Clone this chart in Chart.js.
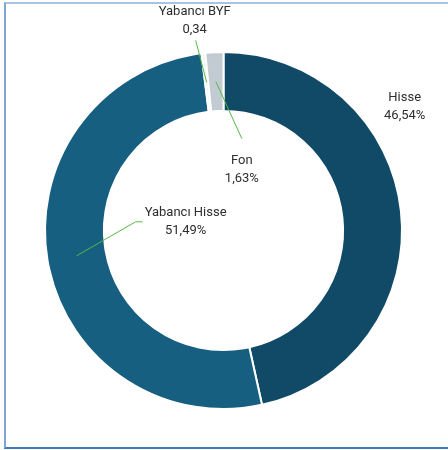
<!DOCTYPE html>
<html>
<head>
<meta charset="utf-8">
<script src="https://cdn.jsdelivr.net/npm/chart.js@4"></script>
<style>
    html, body { margin: 0; padding: 0; background: #fff; }
    #wrap { position: relative; width: 448px; height: 450px; }
    #frame {
        position: absolute; left: 4px; top: 2px; width: 460px; height: 443px;
        border-left: 2px solid #7FA3D2; border-top: 2px solid #A9C3E3; border-bottom: 2px solid #3F78BE;
    }
    canvas { position: absolute; left: 0; top: 0; }
</style>
</head>
<body>
<div id="wrap">
    <div id="frame"></div>
    <canvas id="pieChart" width="448" height="450"></canvas>
</div>
<script>
const categories = ["Hisse", "Yabancı Hisse", "Yabancı BYF", "Fon"]
const shares = [46.54, 51.49, 0.34, 1.63]
const suffixes = ["%", "%", "", "%"]
const sliceColors = ["#104A66", "#175F80", "#F3F5F7", "#C2CAD2"]

// label placement relative to each slice centroid (dx, dy of text block centre, leader line points)
const labelLayout = [
    { dx: 33, dy: -108, line: null },
    { dx: 109, dy: -34, line: [[59, -34], [66, -34]] },
    { dx: -12, dy: -62, line: [[-11, -42]] },
    { dx: 26, dy: 88, line: [[26, 57]] }
]

const formatValue = (v, i) => v.toFixed(2).replace(".", ",") + suffixes[i]

const sliceLabels = {
    id: "sliceLabels",
    afterDatasetsDraw(chart) {
        const ctx = chart.ctx
        const arcs = chart.getDatasetMeta(0).data
        ctx.save()
        for (let i = 0; i < arcs.length; i++) {
            const c = arcs[i].tooltipPosition()
            const lay = labelLayout[i]
            if (lay.line) {
                ctx.strokeStyle = "#56B947"
                ctx.lineWidth = 1
                ctx.beginPath()
                ctx.moveTo(c.x, c.y)
                lay.line.forEach(p => ctx.lineTo(c.x + p[0], c.y + p[1]))
                ctx.stroke()
            }
            ctx.fillStyle = "#2E2E2E"
            ctx.font = "13px Roboto, 'Liberation Sans', sans-serif"
            ctx.textAlign = "center"
            ctx.textBaseline = "middle"
            ctx.fillText(categories[i], c.x + lay.dx, c.y + lay.dy - 9)
            ctx.fillText(formatValue(shares[i], i), c.x + lay.dx, c.y + lay.dy + 9)
        }
        ctx.restore()
    }
}

const ctx = document.getElementById("pieChart").getContext("2d")

new Chart(ctx, {
    type: "doughnut",
    data: {
        labels: categories,
        datasets: [{
            data: shares,
            backgroundColor: sliceColors,
            borderColor: "#ffffff",
            borderWidth: 2
        }]
    },
    options: {
        responsive: false,
        animation: false,
        cutout: "67%",
        layout: { padding: { left: 44, right: 45, top: 51, bottom: 40 } },
        plugins: {
            legend: { display: false },
            tooltip: { enabled: false }
        }
    },
    plugins: [sliceLabels]
})
</script>
</body>
</html>
